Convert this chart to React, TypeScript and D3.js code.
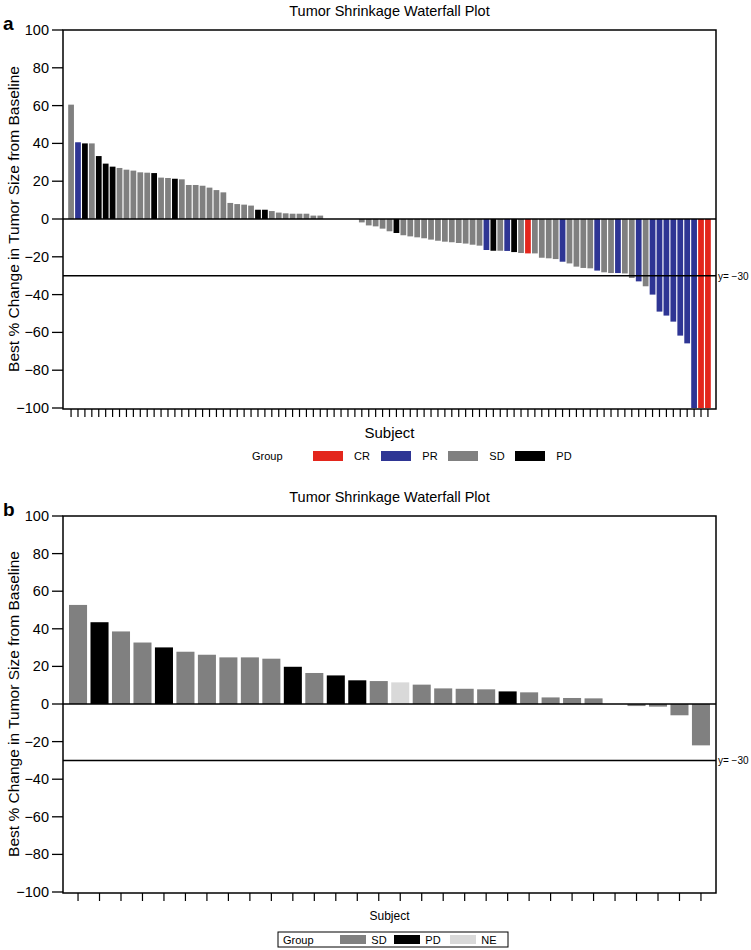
import React from "react";
import * as d3 from "d3";

const groupsA = ["CR", "PR", "SD", "PD"];
const valuesA = [
  60.5, 40.6, 40, 40, 33.3, 29.3, 27.7, 27, 26.1, 25.6, 24.7, 24.5, 24.3, 21.9, 21.7, 21.3, 21, 18, 18, 17.6,
  16.6, 15.3, 14.1, 8.5, 7.9, 7.6, 7.1, 4.9, 4.9, 4.2, 3.4, 3.0, 2.8, 2.8, 2.8, 1.8, 1.8, 0, 0, 0,
  0, 0, -1.8, -3.4, -3.9, -5.1, -6.5, -7.4, -8.6, -9.2, -9.7, -10.2, -10.9, -11.5, -12, -12.3, -12.7, -13, -13.6, -14.1,
  -16.4, -16.8, -16.8, -16.9, -17.5, -18, -18.2, -18.2, -20.5, -20.8, -21.2, -22.6, -23.5, -25.2, -25.9, -26.1, -27.3, -28.2, -28.6, -28.6,
  -28.8, -31.2, -33, -35.6, -40, -49, -51.1, -54.3, -61.7, -65.8, -100, -100, -100,
];
const responseA = [
  "SD", "PR", "PD", "SD", "PD", "PD", "PD", "SD", "SD", "SD", "SD", "SD", "PD", "SD", "SD", "PD", "SD", "SD", "SD", "SD",
  "SD", "SD", "SD", "SD", "SD", "SD", "SD", "PD", "PD", "SD", "SD", "SD", "SD", "SD", "SD", "SD", "SD", "SD", "SD", "SD",
  "SD", "SD", "SD", "SD", "SD", "SD", "SD", "PD", "SD", "SD", "SD", "SD", "SD", "SD", "SD", "SD", "SD", "SD", "SD", "SD",
  "PR", "PD", "SD", "PR", "PD", "SD", "CR", "SD", "SD", "SD", "SD", "PR", "SD", "SD", "SD", "SD", "PR", "SD", "SD", "PR",
  "SD", "SD", "PR", "SD", "PR", "PR", "PR", "PR", "PR", "PR", "PR", "CR", "CR",
];

const groupsB = ["SD", "PD", "NE"];
const valuesB = [
  52.7, 43.5, 38.6, 32.7, 30.1, 27.8, 26.2, 24.8, 24.8, 24.1, 19.8, 16.5, 15.2, 12.6, 12.2,
  11.5, 10.3, 8.3, 8.1, 7.8, 6.7, 6.2, 3.5, 3.2, 3.0, 0, -1.1, -1.4, -6.0, -22,
];
const responseB = [
  "SD", "PD", "SD", "SD", "PD", "SD", "SD", "SD", "SD", "SD", "PD", "SD", "PD", "PD", "SD",
  "NE", "SD", "SD", "SD", "SD", "PD", "SD", "SD", "SD", "SD", "SD", "SD", "SD", "SD", "SD",
];

const yTicks = [100, 80, 60, 40, 20, 0, -20, -40, -60, -80, -100];
const refLine = -30;

const colors: Record<string, string> = {
  CR: "#e3261c",
  PR: "#2e3594",
  SD: "#808080",
  PD: "#000000",
  NE: "#d9d9d9",
};

const FONT = "'Liberation Sans', Arial, Helvetica, sans-serif";
const fmt = (v: number) => (v < 0 ? "\u2212" + Math.abs(v) : String(v));

type PanelProps = {
  letter: string;
  values: number[];
  responses: string[];
  top: number;
  bottom: number;
  padOuter: number;
  padInner: number;
  subjectSize: number;
  subjectY: number;
};

function Panel({ letter, values, responses, top, bottom, padOuter, padInner, subjectSize, subjectY }: PanelProps) {
  const left = 63;
  const right = 716;
  const ids = values.map((_, i) => String(i + 1));
  const x = d3.scaleBand<string>().domain(ids).range([left, right]).paddingInner(padInner).paddingOuter(padOuter);
  const y = d3.scaleLinear().domain([-100, 100]).range([bottom, top]);
  const y0 = y(0);
  return (
    <g>
      <text x={3} y={top} fontFamily={FONT} fontWeight="bold" fontSize={19}>{letter}</text>
      <text x={(left + right) / 2} y={top - 14} textAnchor="middle" fontFamily={FONT} fontSize={14.5}>Tumor Shrinkage Waterfall Plot</text>
      {values.map((v, i) => (
        <rect
          key={i}
          x={x(ids[i])!}
          width={x.bandwidth()}
          y={Math.min(y(v), y0)}
          height={Math.abs(y(v) - y0)}
          fill={colors[responses[i]]}
        />
      ))}
      <line x1={left} x2={right} y1={y0} y2={y0} stroke="#000" strokeWidth={1.5} />
      <line x1={left} x2={right} y1={y(refLine)} y2={y(refLine)} stroke="#000" strokeWidth={1.5} />
      <text x={right + 2} y={y(refLine) + 4} fontFamily={FONT} fontSize={10}>{"y= \u221230"}</text>
      <rect x={left} y={top} width={right - left} height={bottom + 1 - top} fill="none" stroke="#000" strokeWidth={1.5} />
      {yTicks.map((t) => (
        <g key={t}>
          <line x1={left - 11} x2={left} y1={y(t)} y2={y(t)} stroke="#000" strokeWidth={1.3} />
          <text x={left - 14} y={y(t) + 5} textAnchor="end" fontFamily={FONT} fontSize={14.5}>{fmt(t)}</text>
        </g>
      ))}
      {ids.map((id) => (
        <line key={id} x1={x(id)! + x.bandwidth() / 2} x2={x(id)! + x.bandwidth() / 2} y1={bottom + 1} y2={bottom + 9} stroke="#000" strokeWidth={1.2} />
      ))}
      <text
        transform={`translate(19,${(top + bottom) / 2}) rotate(-90)`}
        textAnchor="middle"
        fontFamily={FONT}
        fontSize={15.5}
      >
        Best % Change in Tumor Size from Baseline
      </text>
      <text x={(left + right) / 2} y={subjectY} textAnchor="middle" fontFamily={FONT} fontSize={subjectSize}>Subject</text>
    </g>
  );
}

export default function App() {
  const swW = 30;
  const swH = 10;
  const legA = [
    { g: groupsA[0], x: 313 },
    { g: groupsA[1], x: 381 },
    { g: groupsA[2], x: 448 },
    { g: groupsA[3], x: 515 },
  ];
  const legB = [
    { g: groupsB[0], x: 340 },
    { g: groupsB[1], x: 394 },
    { g: groupsB[2], x: 450 },
  ];
  return (
    <svg width={751} height={950} style={{ position: "absolute", left: 0, top: 0, background: "#fff" }}>
      <rect width={751} height={950} fill="#fff" />
      <Panel letter="a" values={valuesA} responses={responseA} top={30} bottom={408} padOuter={0.75} padInner={0.17} subjectSize={15} subjectY={438} />
      <g fontFamily={FONT} fontSize={11}>
        <text x={252} y={460}>Group</text>
        {legA.map((d) => (
          <g key={d.g}>
            <rect x={d.x} y={451} width={swW} height={swH} fill={colors[d.g]} />
            <text x={d.x + swW + 19} y={460} textAnchor="middle">{d.g}</text>
          </g>
        ))}
      </g>
      <Panel letter="b" values={valuesB} responses={responseB} top={516} bottom={892} padOuter={0.28} padInner={0.16} subjectSize={12} subjectY={920} />
      <g fontFamily={FONT} fontSize={11}>
        <rect x={278} y={932} width={230} height={15} fill="#fff" stroke="#000" strokeWidth={1} />
        <text x={283} y={944}>Group</text>
        {legB.map((d) => (
          <g key={d.g}>
            <rect x={d.x} y={935} width={26} height={9} fill={colors[d.g]} />
            <text x={d.x + 26 + 13} y={944} textAnchor="middle">{d.g}</text>
          </g>
        ))}
      </g>
    </svg>
  );
}
